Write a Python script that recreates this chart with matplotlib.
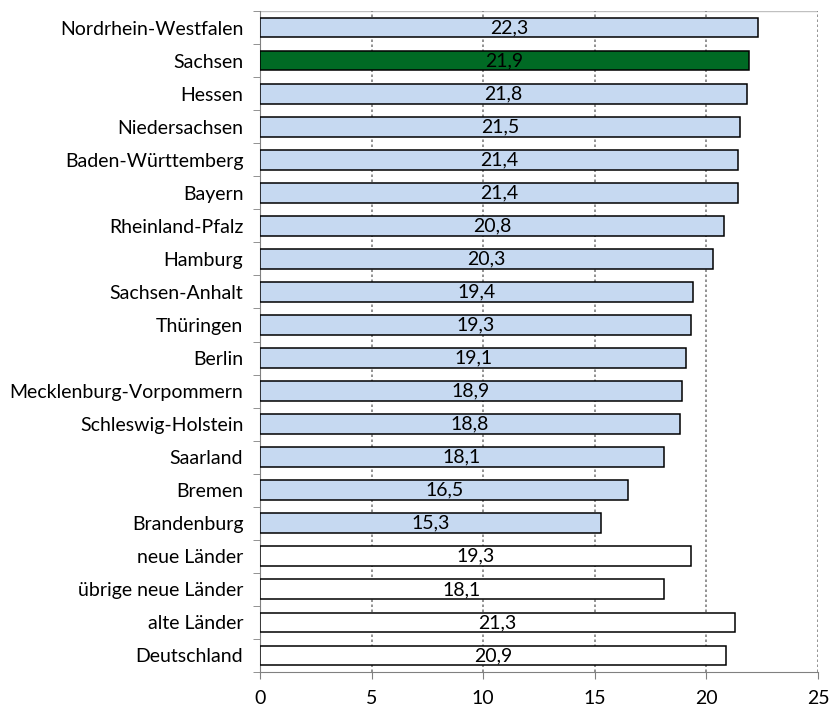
import matplotlib.pyplot as plt

plt.rcParams['font.family'] = ['Lato', 'DejaVu Sans']

# Data, top to bottom
laender = ["Nordrhein-Westfalen", "Sachsen", "Hessen", "Niedersachsen",
           "Baden-Württemberg", "Bayern", "Rheinland-Pfalz", "Hamburg",
           "Sachsen-Anhalt", "Thüringen", "Berlin", "Mecklenburg-Vorpommern",
           "Schleswig-Holstein", "Saarland", "Bremen", "Brandenburg",
           "neue Länder", "übrige neue Länder", "alte Länder", "Deutschland"]
werte = [22.3, 21.9, 21.8, 21.5, 21.4, 21.4, 20.8, 20.3, 19.4, 19.3,
         19.1, 18.9, 18.8, 18.1, 16.5, 15.3, 19.3, 18.1, 21.3, 20.9]
gruppe = ["land", "sachsen"] + ["land"] * 14 + ["summe"] * 4

farben = {"land": "#c6d9f1", "sachsen": "#006a24", "summe": "white"}

fig = plt.figure(figsize=(8.32, 7.06), dpi=100)
ax = fig.add_axes([260 / 832, 34 / 706, 558 / 832, 661 / 706])

pos = list(range(len(laender)))
ax.barh(pos, werte, height=0.6, color=[farben[g] for g in gruppe],
        edgecolor="black", linewidth=1.1, zorder=3)

for p, w in zip(pos, werte):
    ax.text(w / 2, p, f"{w:.1f}".replace(".", ","), ha="center", va="center",
            fontsize=14, color="black", zorder=4)

ax.set_ylim(len(laender) - 0.5, -0.5)
ax.set_xlim(0, 25)
ax.set_xticks([0, 5, 10, 15, 20, 25])
ax.set_yticks(pos)
ax.set_yticklabels(laender, fontsize=14)
ax.set_yticks([p - 0.5 for p in range(len(laender) + 1)], minor=True)
ax.tick_params(axis="y", which="major", length=0, pad=12)
ax.tick_params(axis="y", which="minor", length=5, color="#808080")
ax.tick_params(axis="x", labelsize=14, length=5, color="#808080", pad=8)

ax.grid(axis="x", linestyle=(0, (1.5, 1.5)), color="#808080", linewidth=1.2, zorder=0)
for s in ["top", "right"]:
    ax.spines[s].set_visible(False)
ax.spines["left"].set_color("#808080")
ax.spines["bottom"].set_color("#808080")
ax.axhline(-0.5, color="#c0c0c0", linewidth=1, zorder=1)

fig.savefig("out.png", dpi=100)
